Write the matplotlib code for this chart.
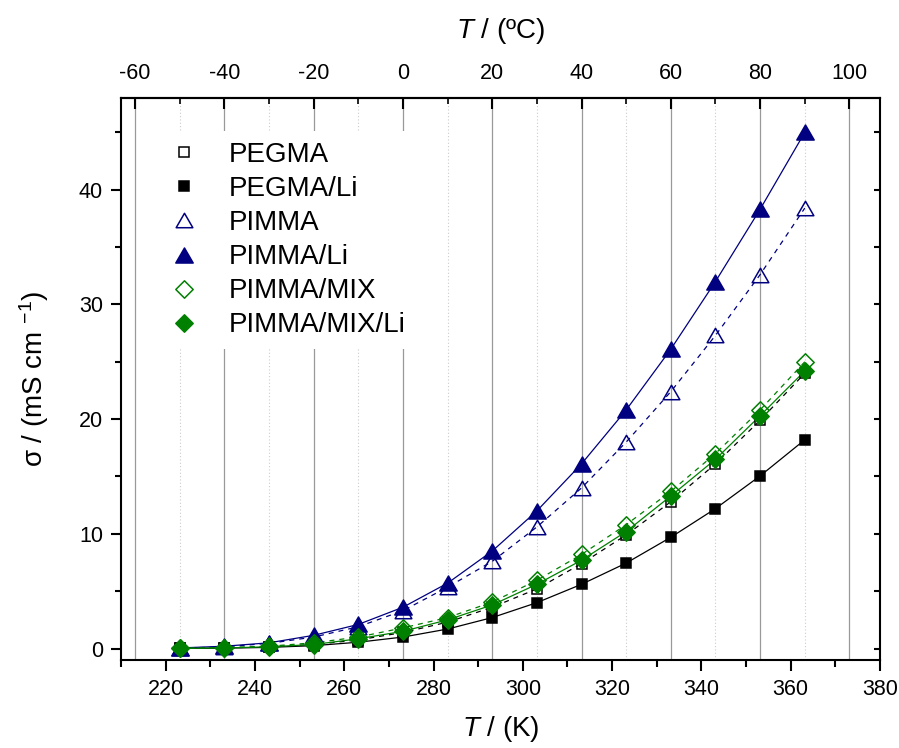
import numpy as np
import matplotlib
matplotlib.use("Agg")
import matplotlib.pyplot as plt
from matplotlib.lines import Line2D
from matplotlib.path import Path
from matplotlib.ticker import MultipleLocator, FixedLocator

plt.rcParams['font.family'] = ['Liberation Sans', 'DejaVu Sans']
plt.rcParams['mathtext.fontset'] = 'custom'
plt.rcParams['mathtext.rm'] = 'Liberation Sans'
plt.rcParams['mathtext.it'] = 'Liberation Sans:italic'
plt.rcParams['axes.unicode_minus'] = False

# ---- data ----
temps_C = [-50, -40, -30, -20, -10, 0, 10, 20, 30, 40, 50, 60, 70, 80, 90]
pegma = [0.02, 0.06, 0.15, 0.35, 0.75, 1.4, 2.3, 3.6, 5.2, 7.4, 9.9, 12.8, 16.1, 19.9, 24.0]
pegma_li = [0.01, 0.03, 0.1, 0.25, 0.55, 1.0, 1.7, 2.7, 4.0, 5.6, 7.45, 9.7, 12.2, 15.05, 18.2]
pimma = [0.03, 0.15, 0.45, 1.0, 1.9, 3.3, 5.35, 7.6, 10.6, 14.0, 18.0, 22.4, 27.3, 32.6, 38.4]
pimma_li = [0.05, 0.2, 0.5, 1.15, 2.1, 3.6, 5.7, 8.5, 12.0, 16.1, 20.8, 26.1, 32.0, 38.3, 45.0]
pimma_mix = [0.02, 0.08, 0.2, 0.5, 1.0, 1.8, 2.7, 4.05, 5.95, 8.2, 10.8, 13.7, 17.0, 20.8, 25.0]
pimma_mix_li = [0.01, 0.05, 0.15, 0.35, 0.85, 1.5, 2.5, 3.8, 5.6, 7.7, 10.2, 13.3, 16.5, 20.3, 24.2]
labels = ['PEGMA', 'PEGMA/Li', 'PIMMA', 'PIMMA/Li', 'PIMMA/MIX', 'PIMMA/MIX/Li']
x_ticks_K = [220, 240, 260, 280, 300, 320, 340, 360, 380]
top_ticks_C = [-60, -40, -20, 0, 20, 40, 60, 80, 100]

T_K = np.array(temps_C) + 273.15

NAVY = '#000080'
GREEN = '#008000'

tri = Path([(0, 0.866), (-1, -0.866), (1, -0.866), (0, 0.866)],
           [Path.MOVETO, Path.LINETO, Path.LINETO, Path.CLOSEPOLY])
dia = Path([(0, 1), (1, 0), (0, -1), (-1, 0), (0, 1)],
           [Path.MOVETO, Path.LINETO, Path.LINETO, Path.LINETO, Path.CLOSEPOLY])

styles = [
    dict(y=pegma, color='black', marker='s', ms=7.8, fill=False, ls=(0, (4, 4))),
    dict(y=pegma_li, color='black', marker='s', ms=7.8, fill=True, ls='-'),
    dict(y=pimma, color=NAVY, marker=tri, ms=12, fill=False, ls=(0, (4, 4))),
    dict(y=pimma_li, color=NAVY, marker=tri, ms=12.5, fill=True, ls='-'),
    dict(y=pimma_mix, color=GREEN, marker=dia, ms=12.5, fill=False, ls=(0, (4, 4))),
    dict(y=pimma_mix_li, color=GREEN, marker=dia, ms=12.5, fill=True, ls='-'),
]

fig = plt.figure(figsize=(8.99, 7.48), dpi=100)
ax = fig.add_axes([121/899, 88/748, 759/899, 562/748])

# vertical grid lines at Celsius ticks
for c in range(-60, 101, 20):
    ax.axvline(c + 273.15, color='#999999', lw=0.9, zorder=0)
for c in range(-50, 100, 20):
    ax.axvline(c + 273.15, color='#cccccc', lw=0.8, ls=(0, (1, 2)), zorder=0)

handles = []
for st, lab in zip(styles, labels):
    fc = st['color'] if st['fill'] else 'none'
    ax.plot(T_K, st['y'], color=st['color'], lw=0.9, ls=st['ls'], zorder=2)
    ax.plot(T_K, st['y'], ls='none', marker=st['marker'], ms=st['ms'],
            markerfacecolor=fc, markeredgecolor=st['color'], mew=1.1, zorder=3)
    handles.append(Line2D([], [], ls='none', marker=st['marker'], ms=st['ms'],
                          markerfacecolor=fc, markeredgecolor=st['color'], mew=1.1))

ax.set_xlim(210, 380)
ax.set_ylim(-1, 48)
ax.xaxis.set_major_locator(FixedLocator(x_ticks_K))
ax.xaxis.set_minor_locator(MultipleLocator(10))
ax.yaxis.set_major_locator(MultipleLocator(10))
ax.yaxis.set_minor_locator(MultipleLocator(5))
ax.set_yticks([0, 10, 20, 30, 40])

for s in ax.spines.values():
    s.set_linewidth(1.5)

ax.tick_params(axis='x', which='major', direction='out', length=8, width=1.5,
               labelsize=15.5, pad=6, top=False)
ax.tick_params(axis='x', which='minor', direction='out', length=5, width=1.5, top=False)
ax.tick_params(axis='y', which='major', direction='out', length=7, width=1.5,
               labelsize=15.5, pad=6, right=True)
ax.tick_params(axis='y', which='minor', direction='out', length=4, width=1.5, right=True)
for t in ax.yaxis.get_major_ticks() + ax.yaxis.get_minor_ticks():
    t.tick2line.set_marker(0)  # TICKLEFT -> points inward from right spine
    t.tick2line.set_markersize(4)

secax = ax.secondary_xaxis('top', functions=(lambda k: k - 273.15, lambda c: c + 273.15))
secax.xaxis.set_major_locator(FixedLocator(top_ticks_C))
secax.xaxis.set_minor_locator(MultipleLocator(10))
secax.tick_params(which='major', direction='in', length=8, width=1.5, labelsize=15.5, pad=10)
secax.tick_params(which='minor', direction='in', length=4, width=1.2)
secax.spines['top'].set_linewidth(1.5)
secax.set_xlabel(r'$\mathit{T}$ / (ºC)', fontsize=20, labelpad=18)

ax.set_xlabel(r'$\mathit{T}$ / (K)', fontsize=20, labelpad=10)
ax.set_ylabel(r'σ / (mS cm $^{-1}$)', fontsize=20, labelpad=20)

leg = ax.legend(handles, labels, loc='upper left', bbox_to_anchor=(0.032, 0.966),
                fontsize=20, frameon=True, framealpha=1, facecolor='white',
                edgecolor='none', handlelength=1.0, handletextpad=1.12,
                labelspacing=0.29, borderpad=0.4, fancybox=False)
leg.set_zorder(1)

fig.savefig('out.png', dpi=100)
